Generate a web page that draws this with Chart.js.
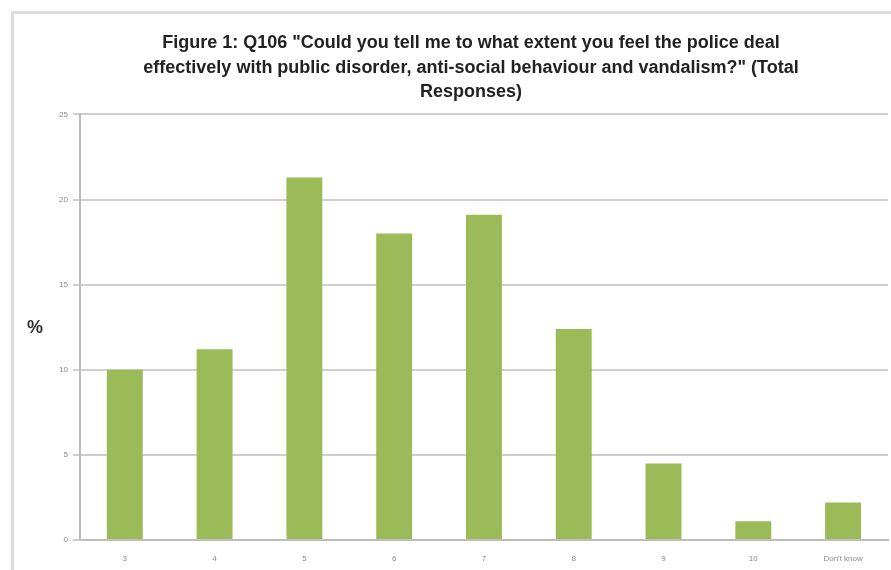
<!DOCTYPE html>
<html>
<head>
<meta charset="utf-8">
<script src="https://cdn.jsdelivr.net/npm/chart.js@4"></script>
<style>
  html, body { margin: 0; padding: 0; background: #fff; overflow: hidden; }
  #frame {
    position: absolute; left: 11px; top: 11px; width: 900px; height: 600px;
    border-top: 3px solid #dcdcdc; border-left: 3px solid #dcdcdc;
  }
  #wrap { position: absolute; left: 0; top: 0; width: 891px; height: 570px; }
</style>
</head>
<body>
<div id="frame"></div>
<div id="wrap"><canvas id="chart" width="891" height="570"></canvas></div>
<script>
// Data
const categories = ['3', '4', '5', '6', '7', '8', '9', '10', "Don't know"];
const percentages = [10.0, 11.2, 21.3, 18.0, 19.1, 12.4, 4.5, 1.1, 2.2];
const yTicks = [0, 5, 10, 15, 20, 25];

const titleLines = [
    'Figure 1: Q106 "Could you tell me to what extent you feel the police deal',
    'effectively with public disorder, anti-social behaviour and vandalism?" (Total',
    'Responses)'
];

// Draws the horizontal "%" axis label left of the y axis
const percentLabel = {
    id: 'percentLabel',
    afterDraw(chart) {
        const ctx = chart.ctx;
        const area = chart.chartArea;
        ctx.save();
        ctx.font = 'bold 18px "Liberation Sans", sans-serif';
        ctx.fillStyle = '#333';
        ctx.textAlign = 'center';
        ctx.textBaseline = 'middle';
        ctx.fillText('%', 35, (area.top + area.bottom) / 2 + 1);
        ctx.restore();
    }
};

const ctx = document.getElementById('chart').getContext('2d');
new Chart(ctx, {
    type: 'bar',
    data: {
        labels: categories,
        datasets: [{
            label: '%',
            data: percentages,
            backgroundColor: '#9bbb59',
            barPercentage: 0.8,
            categoryPercentage: 0.5
        }]
    },
    options: {
        responsive: false,
        animation: false,
        layout: { padding: { left: 54, right: 3, top: 0, bottom: 0 } },
        plugins: {
            legend: { display: false },
            tooltip: { enabled: false },
            title: {
                display: true,
                text: titleLines,
                color: '#222',
                font: { family: '"Liberation Sans", sans-serif', size: 18, weight: 'bold', lineHeight: 1.36 },
                padding: { top: 31, bottom: 10 }
            }
        },
        scales: {
            x: {
                grid: { display: false },
                border: { display: true, color: '#bdbdbd', width: 2 },
                afterFit(axis) { axis.height = 30; },
                ticks: {
                    color: '#8a8a8a',
                    font: { family: '"Liberation Sans", sans-serif', size: 8 },
                    padding: 6,
                    maxRotation: 0
                }
            },
            y: {
                min: 0,
                max: 25,
                afterBuildTicks(axis) { axis.ticks = yTicks.map(v => ({ value: v })); },
                grid: { color: '#cfcfcf', lineWidth: 2, tickLength: 7 },
                border: { display: true, color: '#bdbdbd', width: 2 },
                ticks: {
                    color: '#8a8a8a',
                    font: { family: '"Liberation Sans", sans-serif', size: 8 },
                    padding: 5
                }
            }
        }
    },
    plugins: [percentLabel]
});
</script>
</body>
</html>
